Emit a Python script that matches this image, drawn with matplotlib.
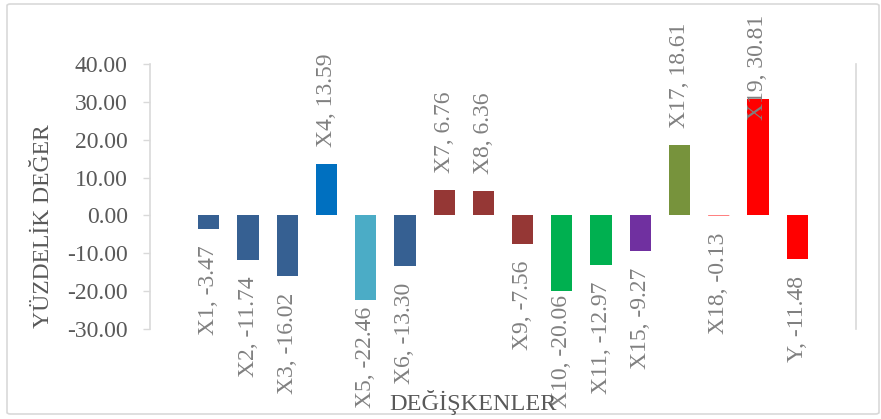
import matplotlib
matplotlib.use("Agg")
import matplotlib.pyplot as plt
from matplotlib.patches import FancyBboxPatch

categories = ["X1", "X2", "X3", "X4", "X5", "X6", "X7", "X8", "X9", "X10",
              "X11", "X15", "X17", "X18", "X19", "Y"]
values = [-3.47, -11.74, -16.02, 13.59, -22.46, -13.30, 6.76, 6.36, -7.56,
          -20.06, -12.97, -9.27, 18.61, -0.13, 30.81, -11.48]
colors = ["#366092", "#366092", "#366092", "#0070C0", "#4BACC6", "#366092",
          "#953735", "#953735", "#953735", "#00B050", "#00B050", "#7030A0",
          "#77933C", "#FF0000", "#FF0000", "#FF0000"]
yticks = [-30, -20, -10, 0, 10, 20, 30, 40]

W, H = 881, 419
fig = plt.figure(figsize=(W / 100, H / 100), dpi=100)
plt.rcParams['font.family'] = ['Liberation Serif', 'DejaVu Serif']

# outer chart border
border = FancyBboxPatch((7 / W, 5 / H), (879 - 7) / W, (415 - 5) / H,
                        boxstyle="round,pad=0,rounding_size=0.004",
                        transform=fig.transFigure, facecolor="none",
                        edgecolor="#D9D9D9", linewidth=1.2, zorder=-1)
fig.patches.append(border)

ax = fig.add_axes([150 / W, (H - 329) / H, (856 - 150) / W, (329 - 64) / H])
ax.set_facecolor("none")
x = list(range(len(categories)))
bars = ax.bar(x, values, width=0.54, color=colors, linewidth=0, zorder=2)
for b in bars:
    if abs(b.get_height()) < 1:
        b.set_snap(False)
ax.set_xlim(-1.5, len(categories) + 0.5)
ax.set_ylim(-30, 40)
ax.set_yticks(yticks)
ax.set_yticklabels([f"{v:.2f}" for v in yticks], fontsize=17, color="#595959")
ax.tick_params(axis="y", length=5, width=1, color="#D9D9D9", pad=11)
ax.set_xticks([])
for s in ["top", "bottom"]:
    ax.spines[s].set_visible(False)
for s in ["left", "right"]:
    ax.spines[s].set_color("#D9D9D9")
    ax.spines[s].set_linewidth(1.2)

fig.text(44 / W, 1 - 226 / H, "YÜZDELİK DEĞER", rotation=90, ha="center",
         va="center", fontsize=17, color="#595959")
fig.text(473 / W, 1 - 402 / H, "DEĞİŞKENLER", ha="center", va="center",
         fontsize=17.5, color="#595959")

# data labels
texts = []
for xi, v, c in zip(x, values, categories):
    off = 17 if v >= 0 else -17
    t = ax.annotate(f"{c}, {v:.2f}", xy=(xi, v), xytext=(0, off),
                    textcoords="offset pixels", rotation=90, ha="center",
                    va="bottom" if v >= 0 else "top", fontsize=17,
                    color="#808080", zorder=3)
    texts.append(t)

fig.canvas.draw()
r = fig.canvas.get_renderer()
top_lim = H - 15
bot_lim = H - 408
for t in texts:
    bb = t.get_window_extent(r)
    dy = 0
    if bb.y1 > top_lim:
        dy = top_lim - bb.y1
    elif bb.y0 < bot_lim:
        dy = bot_lim - bb.y0
    if dy:
        ox, oy = t.xyann
        t.xyann = (ox, oy + dy)

fig.savefig("out.png", dpi=100)
